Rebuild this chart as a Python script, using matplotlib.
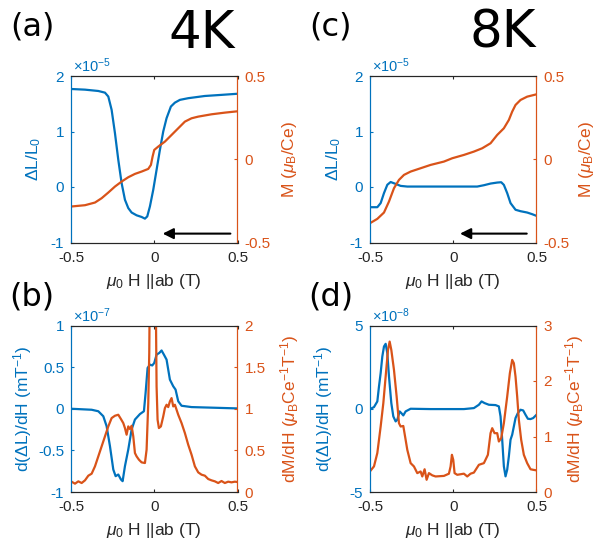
import matplotlib
matplotlib.use("Agg")
import matplotlib.pyplot as plt
import numpy as np

plt.rcParams['font.family'] = ['Liberation Sans', 'DejaVu Sans']
plt.rcParams['mathtext.fontset'] = 'custom'
plt.rcParams['mathtext.rm'] = 'Liberation Sans'
plt.rcParams['mathtext.it'] = 'Liberation Sans:italic'

BLUE = '#0072BD'
ORANGE = '#D95319'
GRAY = '#262626'

# ---- panel (a): 4K, dL/L0 (x1e-5) and M
h_a_dl = [-0.5, -0.416, -0.336, -0.296, -0.276, -0.256, -0.236, -0.216, -0.196, -0.176,
          -0.156, -0.136, -0.106, -0.076, -0.056, -0.042, -0.026, -0.006, 0.014, 0.034,
          0.054, 0.074, 0.10, 0.124, 0.154, 0.204, 0.304, 0.404, 0.5]
dl_a = [1.766, 1.754, 1.73, 1.70, 1.63, 1.39, 0.97, 0.49, 0.07, -0.23,
        -0.38, -0.46, -0.51, -0.54, -0.57, -0.53, -0.35, -0.05, 0.31, 0.67,
        1.0, 1.24, 1.45, 1.52, 1.57, 1.60, 1.64, 1.66, 1.68]
h_a_m = [-0.5, -0.416, -0.356, -0.316, -0.276, -0.236, -0.196, -0.156, -0.116, -0.076,
         -0.036, -0.02, -0.01, 0.0, 0.024, 0.064, 0.104, 0.144, 0.184, 0.224,
         0.264, 0.344, 0.424, 0.5]
m_a = [-0.284, -0.276, -0.26, -0.234, -0.20, -0.164, -0.134, -0.108, -0.088, -0.074,
       -0.058, -0.034, 0.016, 0.056, 0.076, 0.106, 0.146, 0.186, 0.226, 0.246,
       0.256, 0.27, 0.28, 0.288]

# ---- panel (c): 8K
h_c_dl = [-0.5, -0.456, -0.436, -0.416, -0.396, -0.376, -0.346, -0.316, -0.276, -0.136,
          -0.016, 0.144, 0.184, 0.224, 0.264, 0.288, 0.304, 0.324, 0.344, 0.374,
          0.404, 0.444, 0.474, 0.5]
dl_c = [-0.364, -0.364, -0.29, -0.11, 0.04, 0.09, 0.056, 0.02, 0.008, 0.008,
        0.008, 0.008, 0.032, 0.062, 0.08, 0.086, 0.038, -0.11, -0.29, -0.41,
        -0.436, -0.46, -0.49, -0.52]
h_c_m = [-0.5, -0.456, -0.416, -0.386, -0.356, -0.326, -0.296, -0.256, -0.196, -0.136,
         -0.056, -0.006, 0.064, 0.124, 0.174, 0.224, 0.264, 0.304, 0.334, 0.354,
         0.374, 0.404, 0.444, 0.5]
m_c = [-0.384, -0.358, -0.32, -0.254, -0.174, -0.124, -0.094, -0.074, -0.054, -0.034,
       -0.014, 0.006, 0.026, 0.046, 0.066, 0.096, 0.146, 0.186, 0.236, 0.286,
       0.326, 0.356, 0.376, 0.39]

# ---- panel (b): 4K derivatives, d(dL)/dH (x1e-7) and dM/dH
h_b_dl = [-0.5, -0.376, -0.336, -0.306, -0.286, -0.266, -0.246, -0.232, -0.216, -0.2,
          -0.19, -0.176, -0.156, -0.136, -0.116, -0.086, -0.062, -0.052, -0.04, -0.026,
          -0.012, 0.0, 0.014, 0.03, 0.044, 0.058, 0.074, 0.094, 0.114, 0.128,
          0.144, 0.164, 0.224, 0.364, 0.5]
ddl_b = [0.0, -0.012, -0.03, -0.09, -0.21, -0.45, -0.73, -0.81, -0.79, -0.85,
         -0.87, -0.69, -0.49, -0.25, -0.13, -0.064, -0.03, 0.19, 0.49, 0.53,
         0.52, 0.55, 0.65, 0.67, 0.70, 0.65, 0.59, 0.35, 0.27, 0.23,
         0.09, 0.036, 0.02, 0.012, 0.004]
h_b_m = [-0.5, -0.476, -0.456, -0.436, -0.416, -0.396, -0.376, -0.356, -0.336, -0.316,
         -0.296, -0.276, -0.256, -0.236, -0.216, -0.2, -0.186, -0.176, -0.166, -0.156,
         -0.146, -0.136, -0.126, -0.116, -0.106, -0.092, -0.076, -0.056, -0.046, -0.036,
         -0.03, -0.026, -0.01, 0.004, 0.008, 0.014, 0.02, 0.028, 0.04, 0.054,
         0.064, 0.074, 0.084, 0.094, 0.104, 0.114, 0.124, 0.144, 0.164, 0.184,
         0.204, 0.224, 0.244, 0.264, 0.284, 0.304, 0.324, 0.344, 0.364, 0.384,
         0.404, 0.424, 0.444, 0.464, 0.484, 0.5]
dm_b = [0.128, 0.10, 0.128, 0.108, 0.14, 0.196, 0.22, 0.308, 0.428, 0.548,
        0.668, 0.788, 0.888, 0.916, 0.928, 0.876, 0.828, 0.768, 0.688, 0.788,
        0.756, 0.796, 0.668, 0.468, 0.428, 0.388, 0.356, 0.348, 0.508, 1.068,
        1.668, 2.6, 3.0, 3.0, 2.6, 1.268, 0.868, 0.768, 0.788, 0.908,
        1.008, 1.048, 1.02, 1.088, 1.128, 1.028, 1.048, 0.928, 0.828, 0.708,
        0.568, 0.448, 0.308, 0.236, 0.208, 0.196, 0.156, 0.14, 0.128, 0.108,
        0.132, 0.108, 0.124, 0.116, 0.124, 0.12]

# ---- panel (d): 8K derivatives, d(dL)/dH (x1e-8) and dM/dH
h_d_dl = [-0.5, -0.476, -0.456, -0.446, -0.436, -0.426, -0.416, -0.406, -0.396, -0.386,
          -0.372, -0.36, -0.346, -0.336, -0.322, -0.312, -0.3, -0.286, -0.256, -0.136,
          0.064, 0.124, 0.154, 0.17, 0.188, 0.214, 0.254, 0.274, 0.284, 0.294,
          0.304, 0.314, 0.324, 0.334, 0.344, 0.354, 0.364, 0.374, 0.388, 0.404,
          0.42, 0.434, 0.448, 0.464, 0.48, 0.5]
ddl_d = [-0.02, 0.1, 0.44, 1.34, 2.14, 3.14, 3.74, 3.9, 3.34, 1.94,
         0.34, -0.46, -0.76, -0.66, -0.16, -0.26, -0.4, -0.16, 0.0, -0.02,
         -0.02, 0.04, 0.24, 0.44, 0.34, 0.24, 0.22, 0.14, -0.46, -1.86,
         -3.46, -4.06, -3.66, -2.86, -1.86, -1.56, -1.06, -0.56, -0.26, -0.06,
         -0.1, -0.36, -0.6, -0.62, -0.56, -0.36]
h_d_m = [-0.5, -0.476, -0.456, -0.436, -0.42, -0.406, -0.392, -0.382, -0.372, -0.356,
         -0.34, -0.326, -0.316, -0.3, -0.286, -0.276, -0.256, -0.236, -0.216, -0.196,
         -0.186, -0.172, -0.16, -0.146, -0.126, -0.106, -0.056, -0.026, -0.016, -0.008,
         0.0, 0.008, 0.024, 0.064, 0.084, 0.104, 0.124, 0.154, 0.184, 0.208,
         0.224, 0.234, 0.248, 0.264, 0.274, 0.288, 0.304, 0.324, 0.34, 0.354,
         0.364, 0.374, 0.384, 0.394, 0.408, 0.424, 0.444, 0.464, 0.48, 0.5]
dm_d = [0.372, 0.462, 0.702, 1.18, 1.6, 2.08, 2.56, 2.71, 2.56, 2.2,
        1.72, 1.24, 1.18, 1.19, 0.94, 0.76, 0.52, 0.46, 0.34, 0.37,
        0.28, 0.41, 0.22, 0.34, 0.3, 0.28, 0.29, 0.33, 0.46, 0.67,
        0.58, 0.34, 0.31, 0.33, 0.28, 0.33, 0.35, 0.49, 0.52, 0.67,
        1.06, 1.15, 1.06, 1.06, 0.91, 0.97, 1.24, 1.72, 2.14, 2.38,
        2.32, 2.08, 1.72, 1.3, 0.94, 0.67, 0.52, 0.41, 0.4, 0.39]

XLABEL = r'$\mu_0$ H ||ab (T)'
TFS = 11     # tick labels
LFS = 12.5   # axis labels


def make_panel(rect, hl, yl, hr, yr, lylim, lyticks, ryticks, rylim, exp_txt,
               lylabel, rylabel, lcoord, rcoord, arrow=None):
    ax = fig.add_axes(rect)
    ax2 = ax.twinx()
    ax.plot(hl, yl, color=BLUE, lw=1.6)
    ax2.plot(hr, yr, color=ORANGE, lw=1.6)
    ax.set_xlim(-0.5, 0.5)
    ax.set_ylim(*lylim)
    ax2.set_ylim(*rylim)
    ax.set_xticks([-0.5, 0, 0.5])
    ax.set_xticklabels(['-0.5', '0', '0.5'])
    ax.set_yticks(lyticks)
    ax.set_yticklabels(['%g' % t for t in lyticks])
    ax2.set_yticks(ryticks)
    ax2.set_yticklabels(['%g' % t for t in ryticks])
    ax.tick_params(axis='x', direction='in', length=2.5, colors=GRAY, labelsize=TFS,
                   top=True, pad=6)
    ax.tick_params(axis='y', direction='in', length=2.5, colors=BLUE, labelsize=TFS, pad=5)
    ax2.tick_params(axis='y', direction='in', length=2.5, colors=ORANGE, labelsize=TFS, pad=5)
    for a in (ax, ax2):
        a.spines['top'].set_color(GRAY)
        a.spines['bottom'].set_color(GRAY)
        a.spines['left'].set_color(BLUE)
        a.spines['right'].set_color(ORANGE)
        for s in a.spines.values():
            s.set_linewidth(0.8)
    ax.set_xlabel(XLABEL, fontsize=LFS, color=GRAY)
    ax.xaxis.set_label_coords(0.5, -0.175)
    ax.xaxis.label.set_va('top')
    ax.set_ylabel(lylabel, fontsize=LFS, color=BLUE)
    ax.yaxis.set_label_coords(lcoord, 0.5)
    ax2.set_ylabel(rylabel, fontsize=LFS, color=ORANGE, rotation=90)
    ax2.yaxis.set_label_coords(rcoord, 0.5)
    ax.text(0.01, 1.005, exp_txt, transform=ax.transAxes, color=BLUE,
            fontsize=10.5, ha='left', va='bottom')
    if arrow is not None:
        ax.annotate('', xy=(arrow[1], arrow[2]), xytext=(arrow[0], arrow[2]),
                    arrowprops=dict(arrowstyle='-|>', color='k', lw=1.5,
                                    mutation_scale=16))
    return ax, ax2


fig = plt.figure(figsize=(5.97, 5.5), dpi=100)

W = 166.5 / 597
H = 166.5 / 550
xa = 71 / 597
xc = 370 / 597
yt = 1 - 242.5 / 550
yb = 1 - 492 / 550

make_panel([xa, yt, W, H], h_a_dl, dl_a, h_a_m, m_a, (-1, 2), [-1, 0, 1, 2],
           [-0.5, 0, 0.5], (-0.5, 0.5), r'$\times$10$^{-5}$',
           r'ΔL/L$_0$', r'M ($\mu_{\rm B}$/Ce)', -0.168, 1.255,
           arrow=(0.474, 0.034, -0.84))
make_panel([xc, yt, W, H], h_c_dl, dl_c, h_c_m, m_c, (-1, 2), [-1, 0, 1, 2],
           [-0.5, 0, 0.5], (-0.5, 0.5), r'$\times$10$^{-5}$',
           r'ΔL/L$_0$', r'M ($\mu_{\rm B}$/Ce)', -0.162, 1.243,
           arrow=(0.458, 0.024, -0.84))
make_panel([xa, yb, W, H], h_b_dl, ddl_b, h_b_m, dm_b, (-1, 1), [-1, -0.5, 0, 0.5, 1],
           [0, 0.5, 1, 1.5, 2], (0, 2), r'$\times$10$^{-7}$',
           r'd(ΔL)/dH (mT$^{-1}$)', r'dM/dH ($\mu_{\rm B}$Ce$^{-1}$T$^{-1}$)',
           -0.222, 1.243)
make_panel([xc, yb, W, H], h_d_dl, ddl_d, h_d_m, dm_d, (-5, 5), [-5, 0, 5],
           [0, 1, 2, 3], (0, 3), r'$\times$10$^{-8}$',
           r'd(ΔL)/dH (mT$^{-1}$)', r'dM/dH ($\mu_{\rm B}$Ce$^{-1}$T$^{-1}$)',
           -0.21, 1.159)

# panel letters and temperatures
big = dict(family=['DejaVu Sans'], color='k', ha='center', va='center')
fig.text(32 / 597, 1 - 27 / 550, '(a)', fontsize=23, **big)
fig.text(331 / 597, 1 - 27 / 550, '(c)', fontsize=23, **big)
fig.text(32 / 597, 1 - 297 / 550, '(b)', fontsize=23, **big)
fig.text(331 / 597, 1 - 297 / 550, '(d)', fontsize=23, **big)
fig.text(202 / 597, 1 - 34 / 550, '4K', fontsize=37, **big)
fig.text(503 / 597, 1 - 34 / 550, '8K', fontsize=37, **big)

fig.savefig('out.png', dpi=100)
